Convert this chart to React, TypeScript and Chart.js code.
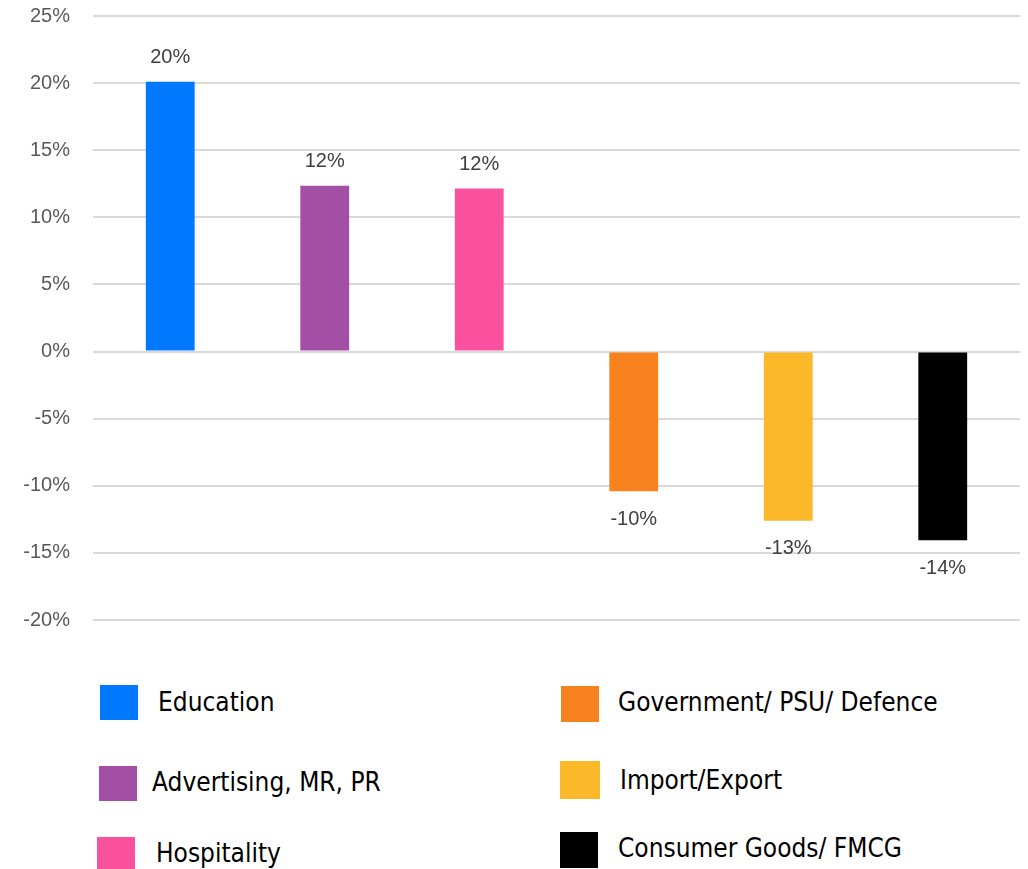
import React, { useEffect, useRef } from "react";
import { Chart, registerables } from "chart.js";

Chart.register(...registerables);

const categories = [
  "Education",
  "Advertising, MR, PR",
  "Hospitality",
  "Government/ PSU/ Defence",
  "Import/Export",
  "Consumer Goods/ FMCG",
];
const values = [20.1, 12.35, 12.15, -10.4, -12.6, -14.05];
const valueLabels = ["20%", "12%", "12%", "-10%", "-13%", "-14%"];
const colors = ["#0078FF", "#A34FA6", "#FA519F", "#F7821E", "#FBB829", "#000000"];
const yTicks = [25, 20, 15, 10, 5, 0, -5, -10, -15, -20];

const legendItems = [
  { idx: 0, sx: 100, sy: 685, sw: 38, sh: 35, tx: 158, ty: 702 },
  { idx: 1, sx: 99, sy: 766, sw: 38, sh: 35, tx: 152, ty: 782 },
  { idx: 2, sx: 97, sy: 837, sw: 38, sh: 32, tx: 156, ty: 853 },
  { idx: 3, sx: 561, sy: 686, sw: 38, sh: 36, tx: 618, ty: 702 },
  { idx: 4, sx: 560, sy: 761, sw: 40, sh: 38, tx: 620, ty: 780 },
  { idx: 5, sx: 560, sy: 832, sw: 38, sh: 36, tx: 618, ty: 848 },
];

const labelPlugin = {
  id: "valueLabels",
  afterDatasetsDraw(chart: any) {
    const ctx = chart.ctx;
    const meta = chart.getDatasetMeta(0);
    ctx.save();
    ctx.font = "20px 'Liberation Sans', Arial, sans-serif";
    ctx.fillStyle = "#404040";
    ctx.textAlign = "center";
    ctx.textBaseline = "middle";
    meta.data.forEach((bar: any, i: number) => {
      const v = values[i];
      const y = v >= 0 ? bar.y - 24 : bar.y + 28;
      ctx.fillText(valueLabels[i], bar.x, y);
    });
    ctx.restore();
  },
};

export default function App() {
  const ref = useRef<HTMLCanvasElement | null>(null);
  useEffect(() => {
    if (!ref.current) return;
    const chart = new Chart(ref.current, {
      type: "bar",
      data: {
        labels: categories,
        datasets: [
          {
            data: values,
            backgroundColor: colors,
            barPercentage: 0.316,
            categoryPercentage: 1,
          },
        ],
      },
      options: {
        animation: false,
        responsive: false,
        maintainAspectRatio: false,
        layout: { padding: { top: 16, bottom: 30, right: 8, left: 0 } },
        plugins: { legend: { display: false }, tooltip: { enabled: false } },
        scales: {
          x: { display: false },
          y: {
            min: -20,
            max: 25,
            afterBuildTicks(scale: any) {
              scale.ticks = yTicks.map((v) => ({ value: v }));
            },
            afterFit(scale: any) {
              scale.width = 93;
              scale.paddingTop = 0;
              scale.paddingBottom = 0;
            },
            border: { display: false },
            grid: { color: "#D9D9D9", lineWidth: 2, drawTicks: false },
            ticks: {
              padding: 23,
              color: "#595959",
              font: { family: "'Liberation Sans', Arial, sans-serif", size: 20 },
              callback: (v: any) => `${v}%`,
            },
          },
        },
      },
      plugins: [labelPlugin],
    });
    return () => chart.destroy();
  }, []);

  return (
    <div style={{ position: "absolute", left: 0, top: 0, width: 1028, height: 869, background: "#fff", overflow: "hidden" }}>
      <canvas ref={ref} width={1028} height={650} style={{ position: "absolute", left: 0, top: 0, width: 1028, height: 650 }} />
      {legendItems.map((it) => (
        <React.Fragment key={it.idx}>
          <div
            style={{
              position: "absolute",
              left: it.sx,
              top: it.sy,
              width: it.sw,
              height: it.sh,
              background: colors[it.idx],
            }}
          />
          <div
            style={{
              position: "absolute",
              left: it.tx,
              top: it.ty - 20,
              height: 40,
              lineHeight: "40px",
              fontFamily: "'DejaVu Sans Condensed', 'DejaVu Sans', sans-serif",
              fontSize: 26,
              color: "#000",
              whiteSpace: "nowrap",
            }}
          >
            {categories[it.idx]}
          </div>
        </React.Fragment>
      ))}
    </div>
  );
}
